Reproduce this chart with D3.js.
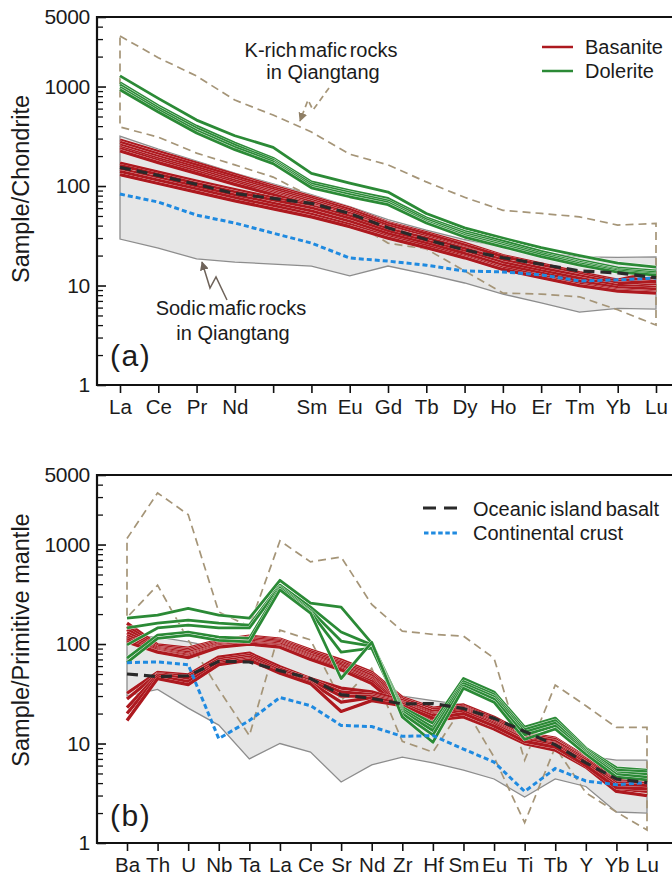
<!DOCTYPE html>
<html><head><meta charset="utf-8">
<script src="https://cdn.jsdelivr.net/npm/d3@7"></script>
<style>
html,body{margin:0;padding:0;background:#fff;}
svg text{font-family:"Liberation Sans",Arial,Helvetica,sans-serif;fill:#1b1b1b;}
</style></head><body>
<script>
// ---------- (a) chondrite-normalised REE patterns ----------
const reeKeys   = ["La","Ce","Pr","Nd","Pm","Sm","Eu","Gd","Tb","Dy","Ho","Er","Tm","Yb","Lu"];
const reeLabels = ["La","Ce","Pr","Nd","","Sm","Eu","Gd","Tb","Dy","Ho","Er","Tm","Yb","Lu"];

const basaniteREE = [
  [290,222,170,130,100,78,60,43,34,26.5,20,16.5,13.5,11.3,13.8],
  [275,210,162,125,96,75,58,42,33,25.5,19.5,16,13,11,12],
  [258,198,153,118,92,72,55,40,31,24,18,14.8,12,10.2,10.4],
  [245,188,146,113,88,69,53,38,29.5,23,17,14,11.3,9.6,9.3],
  [236,180,140,108,85,66,51,37,28.5,22,16.5,13.3,10.8,9.2,9.0],
  [225,172,134,104,82,64,49,35,27.5,21,16,13,10.5,9.0,8.7],
  [170,138,112,92,76,63,50,37,30,23.5,18,15,12.5,10.5,11.0],
  [160,130,106,87,72,60,47,35,28,22,17,14,11.8,10,9.6],
  [148,121,99,81,67,56,44,33,26.5,21,16,13.3,11,9.5,9.2],
  [140,114,93,76,63,52,41,31,25,19.5,15,12.5,10.3,9,8.6],
  [130,106,87,71,59,49,39,30,24,19,14.5,12,10,8.8,8.4]
];
const doleriteREE = [
  [1280,760,460,320,245,134,107,87,53,38,30,24,20,16.8,15.3],
  [1090,640,400,270,190,110,90,75,48,35,28,22,18,15,14],
  [1040,610,380,258,182,105,86,71,46,33.5,26.5,21,17.2,14.4,13.5],
  [980,580,360,245,175,100,82,68,44,32,25.5,20.3,16.6,14,13],
  [930,555,341,232,168,96,78,65,42.5,30.7,24.5,19.5,16,13.6,12.7]
];
const oibREE   = [154,128,104,84,75,67,53,38,29,22.8,19,16.4,14,13.4,12];
const crustREE = [83,69,51,42.5,33.6,26.7,18.9,17.6,16,14,13.7,12.8,11.1,11.4,11.9];
const sodicREEHi = [318,235,178,135,105,82,62,46,36,29,24.5,21.5,19.4,19.2,19.4];
const sodicREELo = [29.3,23.8,18.5,17.2,16.4,15.7,12.5,15.7,13,10.6,8.2,6.7,5.4,5.9,5.8];
const kRichREEHi = [3220,1950,1275,731,517,349,209,163,110,77,57,53,49,40.5,42];
const kRichREELo = [392,310,214,163,123,78,45,26.7,23.3,14,8.4,8.2,7.7,5.7,4.0];

// ---------- (b) primitive-mantle-normalised trace elements ----------
const pmKeys = ["Ba","Th","U","Nb","Ta","La","Ce","Sr","Nd","Zr","Hf","Sm","Eu","Ti","Tb","Y","Yb","Lu"];

const basanitePM = [
  [162,98,91,109,120,112,87,69,52,29,22.7,24.4,18.4,12.7,11.3,7.3,4.6,4.8],
  [150,95,88,106,117,109,84,66,50,28,22,23.5,17.8,12.3,11,7.1,4.4,4.3],
  [140,92,85,103,114,106,81,64,48,27,21,23,17.2,12,10.6,6.9,4.2,4.1],
  [130,90,82,100,110,103,78,62,46,26,20.5,22,16.6,11.6,10.2,6.7,4.0,3.9],
  [122,88,79,98,107,100,76,60,45,25,19.5,21.2,16,11.2,9.8,6.5,3.8,3.7],
  [115,86,77,96,104,97,74,58,43.5,24,19,20.5,15.4,10.8,9.4,6.3,3.6,3.5],
  [110,84,75,94,102,95,72,56.5,42,23,18,19.5,14.8,10.4,9,6.1,3.5,3.3],
  [105,83,73,93,100,93,70,55,40,22,17.2,18.5,14,10,8.6,5.8,3.3,3.0],
  [32,52,49,74,81,59,45,36,33,27,21,22.5,17,12,10.5,7,4.3,4.4],
  [28,50,47,70,77,56,44,33,31,26,20,22,16.5,11.5,10,6.8,4.1,4.2],
  [23,49,45,67,74,54,43,30,30,25.5,19.5,21.5,16,11.2,9.8,6.5,4,4],
  [20,47,42,64,71,52,41,26,29,25,19,21,15.5,11,9.5,6.3,3.8,3.8],
  [17,45,39,62,69,51,40,21,27,24,18,20,15,10.5,9.2,6,3.6,3.5]
];
const doleritePM = [
  [182,195,228,195,182,437,258,235,102,23,16,45,33,14.6,18,9,5.7,5.4],
  [145,162,174,162,155,390,235,132,98,22,14.5,42,31,13.8,17,8.7,5.4,5.2],
  [98,145,155,145,145,375,218,107,95,21,13.5,40,29.5,13,16,8.4,5.1,4.9],
  [72,123,132,117,114,365,209,83,91,20,12.2,38,28,12.2,15,8.1,4.9,4.6],
  [65,114,123,109,105,350,205,45,104,18.5,10.3,36,26,11,14,7.8,4.6,4.3]
];
const oibPM   = [50,47,48,67,66,54,45,31,28.4,25,25.2,22.5,17.9,13.2,9.7,6.4,4.4,4.05];
const crustPM = [65,66,62,11.2,17,29,24,15.2,14.8,11.8,12,8.8,6.5,3.3,5.6,4.2,3.85,4.05];
const sodicPMHi = [118,118,105,92,100,110,82,60,45,30,27,24.4,18,13,11,7.5,6.8,6.8];
const sodicPMLo = [30,35,22.7,15.3,7.0,10,8.2,4.1,6.1,7.3,6.4,5.4,4.4,2.9,4.4,3.7,2.05,2.0];
const kRichPMHi = [1150,3300,2000,210,150,1090,670,750,250,135,125,120,72,6.8,38.7,24,14.5,14.5];
const kRichPMLo = [185,390,110,35,12,138,110,27,57,10.5,8.2,24,7.3,1.6,9.2,3.2,2.05,1.35];

const yTickValues = [1,10,100,1000,5000];

// ---------- drawing ----------
const W = 672, H = 875;
const RED = "#ad191f", GREEN = "#2b8a36", TAN = "#a59578", BLUE = "#1f8ae0", OIBC = "#2a2a2a";
const AXIS_X = 97, RIGHT = 672;

const svg = d3.select("body").append("svg").attr("width", W).attr("height", H);

const defs = svg.append("defs");
defs.append("marker")
  .attr("id","headTan").attr("viewBox","0 0 10 10").attr("refX",9).attr("refY",5)
  .attr("markerWidth",9).attr("markerHeight",9).attr("markerUnits","userSpaceOnUse").attr("orient","auto")
  .append("path").attr("d","M0,0 L10,5 L0,10 Z").attr("fill","#8f7f66");
defs.append("marker")
  .attr("id","headGrey").attr("viewBox","0 0 10 10").attr("refX",9).attr("refY",5)
  .attr("markerWidth",9).attr("markerHeight",9).attr("markerUnits","userSpaceOnUse").attr("orient","auto")
  .append("path").attr("d","M0,0 L10,5 L0,10 Z").attr("fill","#6e635a");

function panel(o) {
  const g = svg.append("g");
  const x = d3.scalePoint().domain(o.keys).range(o.xr);
  const y = d3.scaleLog().domain([1, 5000]).range(o.yr);
  const px = (i) => x(o.keys[i]);
  const line = d3.line().x((d, i) => px(i)).y(d => y(d));

  // sodic field (grey envelope)
  const area = d3.area().x((d, i) => px(i)).y0((d, i) => y(o.sodicLo[i])).y1(d => y(d));
  g.append("path").attr("d", area(o.sodicHi)).attr("fill", "#e6e6e6");
  const ring = (hi, lo) => {
    const pts = hi.map((v, i) => [px(i), y(v)])
      .concat(lo.map((v, i) => [px(i), y(v)]).reverse());
    return "M" + pts.join("L") + "Z";
  };
  g.append("path").attr("d", ring(o.sodicHi, o.sodicLo))
    .attr("fill", "none").attr("stroke", "#8d8d8d").attr("stroke-width", 1.3);

  // K-rich field (dashed outline)
  g.append("path").attr("d", ring(o.kHi, o.kLo))
    .attr("fill", "none").attr("stroke", TAN).attr("stroke-width", 1.7)
    .attr("stroke-dasharray", "8,5");

  // sample patterns with a thin white casing
  const drawSet = (set, colour, w, cw) => {
    set.forEach(s => {
      g.append("path").attr("d", line(s)).attr("fill", "none")
        .attr("stroke", "#fff").attr("stroke-opacity", 0.85).attr("stroke-width", cw)
        .attr("stroke-linejoin", "round");
      g.append("path").attr("d", line(s)).attr("fill", "none")
        .attr("stroke", colour).attr("stroke-width", w).attr("stroke-linejoin", "round");
    });
  };
  drawSet(o.bas, RED, 3.3, 3.6);
  drawSet(o.dol, GREEN, 2.8, 3.6);

  // reference compositions
  g.append("path").attr("d", line(o.crust)).attr("fill", "none")
    .attr("stroke", BLUE).attr("stroke-width", 3).attr("stroke-dasharray", "5,3");
  g.append("path").attr("d", line(o.oib)).attr("fill", "none")
    .attr("stroke", OIBC).attr("stroke-width", 3.2).attr("stroke-dasharray", "11,6");

  // frame: left, top and bottom lines
  const top = o.yr[1], bot = o.yr[0];
  g.append("path").attr("d", `M${RIGHT},${top}H${AXIS_X}V${bot}H${RIGHT}`)
    .attr("fill", "none").attr("stroke", "#111").attr("stroke-width", 2.2);

  // y axis: major ticks with labels, minor ticks inward
  const yAxis = d3.axisLeft(y).tickValues(yTickValues).tickFormat(d3.format("d"))
    .tickSizeInner(-9).tickSizeOuter(0).tickPadding(7);
  const ya = g.append("g").attr("transform", `translate(${AXIS_X},0)`).call(yAxis);
  ya.select(".domain").remove();
  ya.selectAll("line").attr("stroke", "#111").attr("stroke-width", 1.6);
  ya.selectAll("text").attr("font-size", 21).attr("fill", "#1b1b1b")
    .attr("font-family", "Liberation Sans, Arial, sans-serif").attr("letter-spacing", "-0.3");
  const minors = [];
  [1, 10, 100, 1000].forEach(d => d3.range(2, 10).forEach(m => { if (d * m < 5000) minors.push(d * m); }));
  const ym = g.append("g").attr("transform", `translate(${AXIS_X},0)`)
    .call(d3.axisLeft(y).tickValues(minors).tickFormat("").tickSizeInner(-6).tickSizeOuter(0));
  ym.select(".domain").remove();
  ym.selectAll("line").attr("stroke", "#111").attr("stroke-width", 1.3);

  // x axis
  const xAxis = d3.axisBottom(x).tickSizeInner(8).tickSizeOuter(0).tickPadding(6)
    .tickFormat((d, i) => o.labels[i]);
  const xa = g.append("g").attr("transform", `translate(0,${bot})`).call(xAxis);
  xa.select(".domain").remove();
  xa.selectAll("line").attr("stroke", "#111").attr("stroke-width", 1.6);
  xa.selectAll("text").attr("font-size", 20.5).attr("fill", "#1b1b1b")
    .attr("font-family", "Liberation Sans, Arial, sans-serif");

  // axis title and panel letter
  g.append("text").attr("transform", `translate(28.5,${o.titleY}) rotate(-90)`)
    .attr("text-anchor", "middle").attr("font-size", 23.5).text(o.title);
  g.append("text").attr("x", 110).attr("y", o.letterY).attr("font-size", 30)
    .attr("letter-spacing", "1.5").text(o.letter);
  return { g, x, y };
}

panel({
  keys: reeKeys, labels: reeLabels, xr: [120, 656], yr: [385, 17],
  bas: basaniteREE, dol: doleriteREE, oib: oibREE, crust: crustREE,
  sodicHi: sodicREEHi, sodicLo: sodicREELo, kHi: kRichREEHi, kLo: kRichREELo,
  title: "Sample/Chondrite", titleY: 189, letter: "(a)", letterY: 366
});
panel({
  keys: pmKeys, labels: pmKeys, xr: [127, 647], yr: [843, 475],
  bas: basanitePM, dol: doleritePM, oib: oibPM, crust: crustPM,
  sodicHi: sodicPMHi, sodicLo: sodicPMLo, kHi: kRichPMHi, kLo: kRichPMLo,
  title: "Sample/Primitive mantle", titleY: 640, letter: "(b)", letterY: 826
});

// legend (a)
const legA = svg.append("g");
[["Basanite", RED, 47], ["Dolerite", GREEN, 71]].forEach(([t, c, yy]) => {
  legA.append("line").attr("x1", 542).attr("x2", 573).attr("y1", yy).attr("y2", yy)
    .attr("stroke", c).attr("stroke-width", 2.5);
  legA.append("text").attr("x", 585).attr("y", yy + 7).attr("font-size", 20).text(t);
});

// legend (b)
const legB = svg.append("g");
legB.append("line").attr("x1", 423).attr("x2", 457).attr("y1", 508).attr("y2", 508)
  .attr("stroke", OIBC).attr("stroke-width", 3.2).attr("stroke-dasharray", "13,8");
legB.append("text").attr("x", 473).attr("y", 515.5).attr("font-size", 20)
  .attr("word-spacing", "-2").text("Oceanic island basalt");
legB.append("line").attr("x1", 424).attr("x2", 458).attr("y1", 533).attr("y2", 533)
  .attr("stroke", BLUE).attr("stroke-width", 3).attr("stroke-dasharray", "4.5,2.6");
legB.append("text").attr("x", 473).attr("y", 540).attr("font-size", 20).text("Continental crust");

// annotations in (a)
const ann = svg.append("g");
ann.append("text").attr("x", 321).attr("y", 57).attr("text-anchor", "middle")
  .attr("font-size", 20).attr("word-spacing", "-3").text("K-rich mafic rocks");
ann.append("text").attr("x", 323).attr("y", 79).attr("text-anchor", "middle")
  .attr("font-size", 20).text("in Qiangtang");
ann.append("path").attr("d", "M329,88 L313,110 L308,100 L300,121")
  .attr("fill", "none").attr("stroke", TAN).attr("stroke-width", 1.7)
  .attr("stroke-dasharray", "6,4").attr("marker-end", "url(#headTan)");

ann.append("text").attr("x", 231).attr("y", 314.5).attr("text-anchor", "middle")
  .attr("font-size", 20).attr("word-spacing", "-3").text("Sodic mafic rocks");
ann.append("text").attr("x", 233).attr("y", 339.5).attr("text-anchor", "middle")
  .attr("font-size", 20).text("in Qiangtang");
ann.append("path").attr("d", "M227,300 L216,277 L210,288 L202,262")
  .attr("fill", "none").attr("stroke", "#6e635a").attr("stroke-width", 1.5)
  .attr("marker-end", "url(#headGrey)");
</script></body></html>
